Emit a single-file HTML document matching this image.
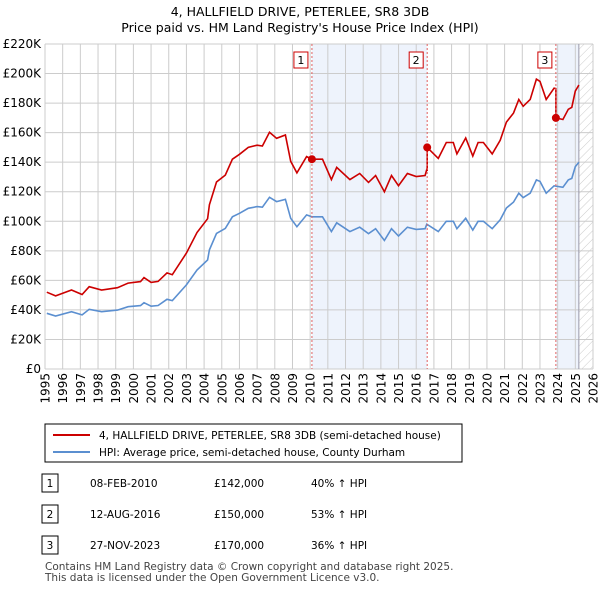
<!DOCTYPE html>
<html><head><meta charset="utf-8"><style>
body{margin:0;background:#fff;font-family:"DejaVu Sans","Liberation Sans",sans-serif;}
#wrap{position:relative;width:600px;height:590px;overflow:hidden;}
svg text{font-family:"DejaVu Sans","Liberation Sans",sans-serif;}
</style></head><body>
<div id="wrap">
<svg id="chart" width="600" height="590" xmlns="http://www.w3.org/2000/svg">
<defs><pattern id="hatch" width="6" height="6" patternUnits="userSpaceOnUse" patternTransform="rotate(45)"><line x1="0" y1="0" x2="0" y2="6" stroke="#ccc" stroke-width="1"/></pattern></defs>
<text x="300" y="16" text-anchor="middle" font-size="12.5" fill="#000">4, HALLFIELD DRIVE, PETERLEE, SR8 3DB</text>
<text x="300" y="32" text-anchor="middle" font-size="12.5" fill="#000">Price paid vs. HM Land Registry's House Price Index (HPI)</text>
<g id="bg"></g><g id="grid"></g><g id="series"></g><g id="axes"></g>
<rect x="45" y="424" width="417" height="38" fill="#fff" stroke="#000" stroke-width="1"/>
<line x1="53" y1="435" x2="90" y2="435" stroke="#cc0000" stroke-width="2"/>
<text x="99" y="439" font-size="10.5">4, HALLFIELD DRIVE, PETERLEE, SR8 3DB (semi-detached house)</text>
<line x1="53" y1="452" x2="90" y2="452" stroke="#5b8fd0" stroke-width="2"/>
<text x="99" y="456" font-size="10.5">HPI: Average price, semi-detached house, County Durham</text>
<g id="table" font-size="10.5"></g>
<text x="45" y="570" font-size="10.5" fill="#444">Contains HM Land Registry data © Crown copyright and database right 2025.</text>
<text x="45" y="581" font-size="10.5" fill="#444">This data is licensed under the Open Government Licence v3.0.</text>
</svg>
</div>
<script>
const hpiYears=[1995.1,1995.6,1996.5,1997.1,1997.5,1998.2,1999.1,1999.7,2000.4,2000.6,2001.0,2001.4,2001.9,2002.2,2003.0,2003.6,2004.2,2004.3,2004.7,2005.2,2005.6,2006.0,2006.5,2007.0,2007.3,2007.7,2008.1,2008.6,2008.9,2009.25,2009.8,2010.1,2010.7,2011.2,2011.5,2012.25,2012.8,2013.3,2013.7,2014.2,2014.6,2015.0,2015.5,2016.0,2016.5,2016.6,2017.25,2017.7,2018.1,2018.3,2018.8,2019.2,2019.5,2019.8,2020.3,2020.75,2021.1,2021.5,2021.8,2022.05,2022.45,2022.8,2023.0,2023.35,2023.8,2024.3,2024.6,2024.8,2025.0,2025.2];
const hpiValues=[37.7,35.9,38.8,36.6,40.4,38.8,39.9,42.2,42.9,44.9,42.5,43,47.2,46.3,56.9,67,73.8,80.6,91.8,95.2,103,105.4,108.8,109.9,109.5,116.2,113.3,114.9,102,96.3,104.3,103,103,93,99,93,96,91.6,95,87,95,90,96,94.5,95,98,93,100,100,95,102,94,100,100,95,101,109,113,119,116,119,128,127,119,124,123,128,129,137,140];
const saleLabels=["1","2","3"];
const saleYears=[2010.1,2016.62,2023.9];
const salePrices=[142000,150000,170000];
const saleDates=["08-FEB-2010","12-AUG-2016","27-NOV-2023"];
const salePriceText=["£142,000","£150,000","£170,000"];
const saleHpiText=["40% ↑ HPI","53% ↑ HPI","36% ↑ HPI"];
const yTicks=[0,20000,40000,60000,80000,100000,120000,140000,160000,180000,200000,220000];
const yTickLabels=["£0","£20K","£40K","£60K","£80K","£100K","£120K","£140K","£160K","£180K","£200K","£220K"];
const xTicks=[1995,1996,1997,1998,1999,2000,2001,2002,2003,2004,2005,2006,2007,2008,2009,2010,2011,2012,2013,2014,2015,2016,2017,2018,2019,2020,2021,2022,2023,2024,2025,2026];

const L=45,R=593,T=44,B=369;
const X=y=>L+(y-1995)/(2026-1995)*(R-L);
const Y=v=>B-v/220000*(B-T);
const NS="http://www.w3.org/2000/svg";
function mk(tag,attrs,parent){const e=document.createElementNS(NS,tag);for(const k in attrs)e.setAttribute(k,attrs[k]);document.getElementById(parent).appendChild(e);return e;}
const hpiAt=y=>{for(let i=0;i<hpiYears.length-1;i++){if(y<=hpiYears[i+1]){const t=(y-hpiYears[i])/(hpiYears[i+1]-hpiYears[i]);return hpiValues[i]+t*(hpiValues[i+1]-hpiValues[i]);}}return hpiValues[hpiValues.length-1];};
const dataEnd=hpiYears[hpiYears.length-1];

let r=mk('rect',{x:X(saleYears[0]),y:T,width:X(saleYears[1])-X(saleYears[0]),height:B-T,fill:'#eef3fc'},'bg');

r=mk('rect',{x:X(saleYears[2]),y:T,width:X(dataEnd)-X(saleYears[2]),height:B-T,fill:'#eef3fc'},'bg');

r=mk('rect',{x:X(dataEnd),y:T,width:R-X(dataEnd),height:B-T,fill:'url(#hatch)'},'bg');


yTicks.forEach((v,i)=>{
 let l=mk('line',{x1:L,x2:R,y1:Y(v),y2:Y(v),stroke:'#ccc','stroke-width':1},'grid');
 
 let t=mk('text',{x:L-4,y:Y(v)+4,'text-anchor':'end','font-size':12},'axes');t.textContent=yTickLabels[i];
 
});
xTicks.forEach(y=>{
 let l=mk('line',{x1:X(y),x2:X(y),y1:T,y2:B,stroke:'#ccc','stroke-width':1},'grid');
 
 let t=mk('text',{x:0,y:0,'text-anchor':'end','font-size':12,transform:'translate('+(X(y)+4.5)+','+(B+4)+') rotate(-90)'},'axes');t.textContent=y;
 
});
let vl=mk('line',{x1:X(dataEnd),x2:X(dataEnd),y1:T,y2:B,stroke:'#99a',"stroke-width":1},'grid');


let d=hpiYears.map((y,i)=>(i?'L':'M')+X(y).toFixed(1)+','+Y(hpiValues[i]*1000).toFixed(1)).join('');
let p=mk('path',{d:d,fill:'none',stroke:'#5b8fd0','stroke-width':1.6},'series');


function ratioAt(y){let k=0;for(let i=0;i<saleYears.length;i++)if(y>=saleYears[i])k=i;return salePrices[k]/(hpiAt(saleYears[k])*1000);}
let pts=[];let ys=hpiYears.concat(saleYears).sort((a,b)=>a-b);
ys.forEach(y=>{
 saleYears.forEach((s,k)=>{if(Math.abs(y-s)<1e-9&&k>0){const prev=salePrices[k-1]/(hpiAt(saleYears[k-1])*1000);pts.push([y,hpiAt(y)*1000*prev]);}});
 pts.push([y,hpiAt(y)*1000*ratioAt(y)]);
});
d=pts.map((q,i)=>(i?'L':'M')+X(q[0]).toFixed(1)+','+Y(q[1]).toFixed(1)).join('');
p=mk('path',{d:d,fill:'none',stroke:'#cc0000','stroke-width':1.6},'series');


saleYears.forEach((s,i)=>{
 let l=mk('line',{x1:X(s),x2:X(s),y1:T,y2:B,stroke:'#e06060','stroke-width':1,'stroke-dasharray':'2,2'},'series');
 
 let c=mk('circle',{cx:X(s),cy:Y(salePrices[i]),r:4,fill:'#cc0000'},'series');
 
 let b=mk('rect',{x:X(s)-18,y:52,width:14,height:16,fill:'#fff',stroke:'#cc0000'},'series');
 
 let t=mk('text',{x:X(s)-11,y:64,'text-anchor':'middle','font-size':11},'series');t.textContent=saleLabels[i];
 
 const ry=483+i*31;
 b=mk('rect',{x:42,y:ry-9,width:16,height:18,fill:'#fff',stroke:'#000'},'table');
 
 t=mk('text',{x:50,y:ry+4,'text-anchor':'middle'},'table');t.textContent=saleLabels[i];
 
 t=mk('text',{x:90,y:ry+4},'table');t.textContent=saleDates[i];
 
 t=mk('text',{x:214,y:ry+4},'table');t.textContent=salePriceText[i];
 
 t=mk('text',{x:311,y:ry+4},'table');t.textContent=saleHpiText[i];
 
});
</script>
</body></html>
